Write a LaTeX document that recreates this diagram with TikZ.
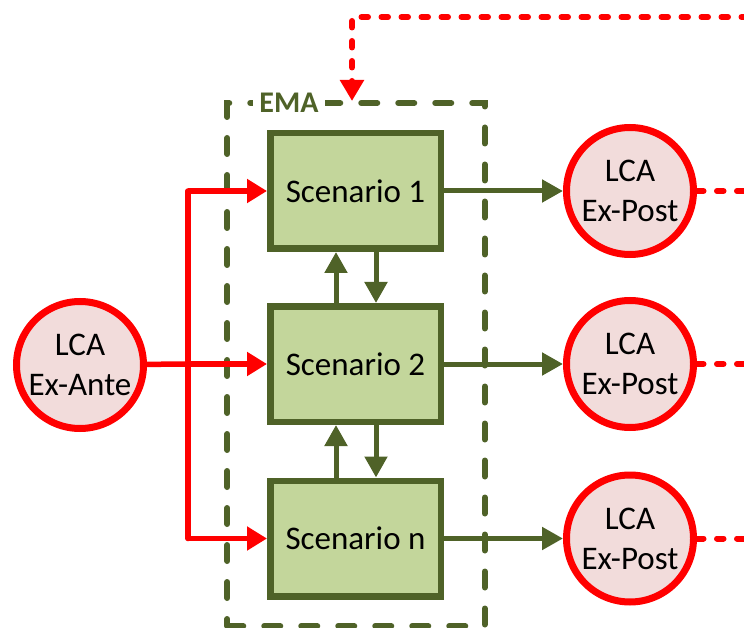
\documentclass[tikz,border=0pt]{standalone}
\usepackage{fontspec}
\setmainfont{Carlito}
\usetikzlibrary{positioning}
\usetikzlibrary{arrows.meta}
\definecolor{emagreen}{HTML}{4F6228}
\definecolor{boxgreen}{HTML}{C3D69B}
\definecolor{lcapink}{HTML}{F2DCDB}

\tikzset{
  lca/.style={draw=red, line width=7pt, fill=lcapink, circle, minimum size=127pt, inner sep=0pt, align=center},
  scen/.style={draw=emagreen, line width=6.5pt, fill=boxgreen, minimum width=170.5pt, minimum height=115.5pt, inner sep=0pt},
  redarrow/.style={draw=red, line width=5.5pt, -{Triangle[length=20pt,width=23pt]}},
  greenarrow/.style={draw=emagreen, line width=5pt, -{Triangle[length=21pt,width=22pt]}},
  reddots/.style={draw=red, line width=6pt, line cap=round, dash pattern=on 6.5pt off 13.5pt}
}

\begin{document}
\begin{tikzpicture}[x=1pt, y=-1pt, font=\fontsize{33}{40}\selectfont]
            \useasboundingbox (0,0) rectangle (744,628);
            % EMA frame
            \node[draw=emagreen, line width=6pt, line cap=round, dash pattern=on 16pt off 21pt, minimum width=257.5pt, minimum height=523pt, inner sep=0pt] (ema) at (356,364.5) {};
            \node[fill=white, text=emagreen, inner xsep=6pt, inner ysep=2pt, font=\fontsize{30}{34}\selectfont\bfseries] (emalabel) at (289,103) {EMA};

            % scenarios
            \node[scen] (s1) at (355.5,191) {Scenario 1};
            \node[scen] (s2) at (355.5,364) {Scenario 2};
            \node[scen] (sn) at (355.5,538.5) {Scenario n};

            % life cycle assessments
            \node[lca] (ante) at (80,365) {LCA\\Ex-Ante};
            \node[lca] (post1) at (630,191) {LCA\\Ex-Post};
            \node[lca] (post2) at (630,364) {LCA\\Ex-Post};
            \node[lca] (postn) at (630,538.5) {LCA\\Ex-Post};

            % ex-ante to scenarios
            \coordinate (split) at (188,364);
            \draw[draw=red, line width=5.5pt] (ante) -- (split);
            \draw[draw=red, line width=5.5pt, line cap=round] (split |- s1) -- (split |- sn);
            \draw[redarrow] (split |- s1) -- (s1);
            \draw[redarrow] (split) -- (s2);
            \draw[redarrow] (split |- sn) -- (sn);

            % between scenarios
            \draw[greenarrow] ([xshift=-19.5pt]s2.north) -- ([xshift=-19.5pt]s1.south);
            \draw[greenarrow] ([xshift=20.5pt]s1.south) -- ([xshift=20.5pt]s2.north);
            \draw[greenarrow] ([xshift=-19.5pt]sn.north) -- ([xshift=-19.5pt]s2.south);
            \draw[greenarrow] ([xshift=20.5pt]s2.south) -- ([xshift=20.5pt]sn.north);

            % scenarios to ex-post
            \draw[greenarrow] (s1) -- (post1);
            \draw[greenarrow] (s2) -- (post2);
            \draw[greenarrow] (sn) -- (postn);

            % feedback
            \coordinate (edge) at (748,17);
            \coordinate (turn) at (352,17);
            \draw[reddots] (post1.east) -- (post1.east -| edge);
            \draw[reddots] (post2.east) -- (post2.east -| edge);
            \draw[reddots] (postn.east) -- (postn.east -| edge);
            \draw[reddots, -{Triangle[length=21pt,width=23pt]}] (edge) -- (turn) -- ([yshift=-1pt]turn |- ema.north);
        \end{tikzpicture}
\end{document}
